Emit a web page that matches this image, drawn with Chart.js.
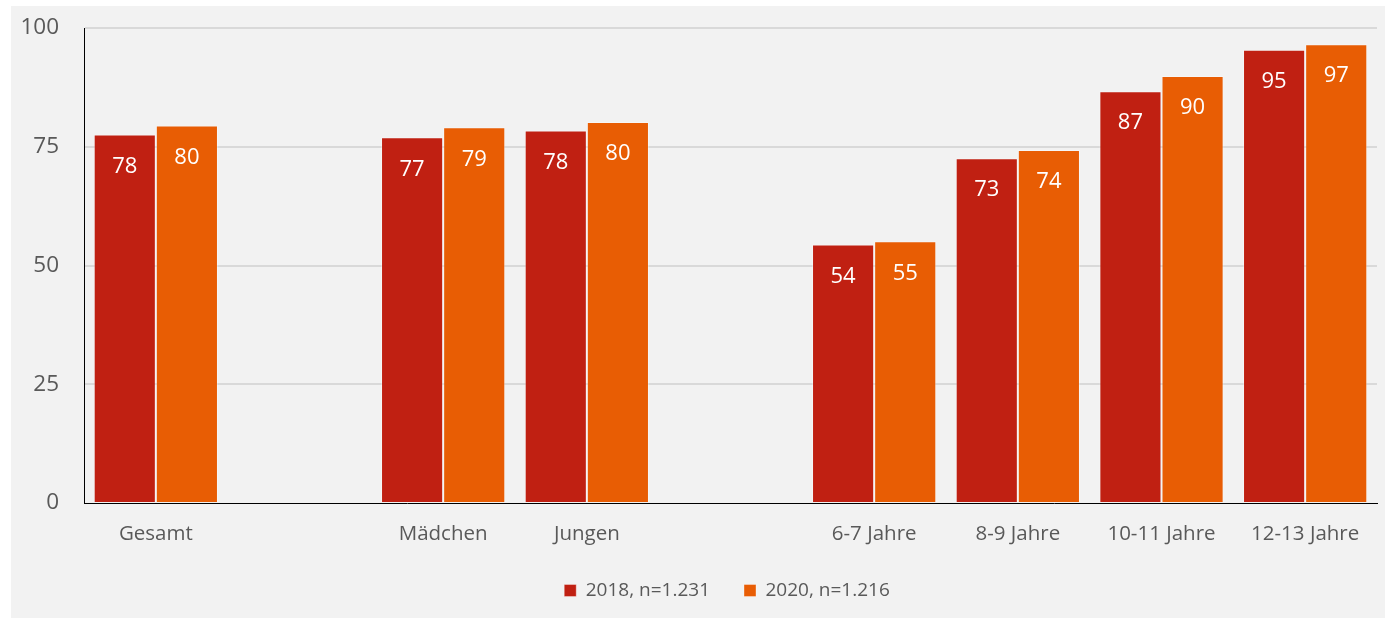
<!DOCTYPE html>
<html lang="de">
<head>
<meta charset="utf-8">
<title>2018 vs 2020</title>
<script src="https://cdn.jsdelivr.net/npm/chart.js@4.4.1/dist/chart.umd.min.js"></script>
<style>
  html, body { margin: 0; padding: 0; background: #ffffff; }
  #wrap { position: relative; width: 1391px; height: 625px; }
</style>
</head>
<body>
<div id="wrap"><canvas id="chart" width="1391" height="625"></canvas></div>
<script>
// categories (empty strings are the gaps between groups)
const categories = ['Gesamt', '', 'Mädchen', 'Jungen', '', '6-7 Jahre', '8-9 Jahre', '10-11 Jahre', '12-13 Jahre'];
const values2018 = [77.6, null, 77.0, 78.4, null, 54.4, 72.6, 86.7, 95.4];
const values2020 = [79.5, null, 79.1, 80.2, null, 55.1, 74.3, 89.9, 96.6];
const seriesNames = ['2018, n=1.231', '2020, n=1.216'];
const yTicks = [0, 25, 50, 75, 100];

const FONT = "'Open Sans', sans-serif";
const textGray = '#595959';

// grey panel behind the chart
const panelBg = {
    id: 'panelBg',
    beforeDraw(chart) {
        const c = chart.ctx;
        c.save();
        c.fillStyle = '#ffffff';
        c.fillRect(0, 0, chart.width, chart.height);
        c.fillStyle = '#f2f2f2';
        c.fillRect(11, 6, 1374, 612);
        c.restore();
    }
};

// legend is centred under the plot area, not the whole canvas
const legendShift = {
    id: 'legendShift',
    afterLayout(chart) {
        const lg = chart.legend;
        if (!lg) return;
        lg.left += 31;
        lg.right += 31;
    }
};

// white value labels inside the top of each bar
const barLabels = {
    id: 'barLabels',
    afterDatasetsDraw(chart) {
        const c = chart.ctx;
        c.save();
        c.fillStyle = '#ffffff';
        c.font = '22px ' + FONT;
        c.textAlign = 'center';
        c.textBaseline = 'middle';
        chart.data.datasets.forEach((ds, i) => {
            chart.getDatasetMeta(i).data.forEach((bar, j) => {
                const v = ds.data[j];
                if (v == null) return;
                c.fillText(String(Math.round(v)), bar.x, bar.y + 32);
            });
        });
        c.restore();
    }
};

const ctx = document.getElementById('chart');
new Chart(ctx, {
    type: 'bar',
    data: {
        labels: categories,
        datasets: [
            {
                label: seriesNames[0],
                data: values2018,
                backgroundColor: '#c02012',
                borderColor: 'rgba(255,255,255,0.35)',
                borderWidth: 1
            },
            {
                label: seriesNames[1],
                data: values2020,
                backgroundColor: '#e85d04',
                borderColor: 'rgba(255,255,255,0.35)',
                borderWidth: 1
            }
        ]
    },
    options: {
        responsive: false,
        animation: false,
        layout: { padding: { left: 15, top: 28, right: 14, bottom: 15 } },
        datasets: {
            bar: { categoryPercentage: 0.865, barPercentage: 1.0 }
        },
        scales: {
            x: {
                grid: { display: false, drawTicks: false },
                border: { display: true, color: '#000000', width: 1 },
                ticks: { color: textGray, font: { family: FONT, size: 20.5 }, padding: 19, maxRotation: 0, autoSkip: false },
                afterFit(scale) { scale.height = 44; }
            },
            y: {
                min: 0,
                max: 100,
                afterBuildTicks(scale) { scale.ticks = yTicks.map(v => ({ value: v })); },
                grid: {
                    drawTicks: true,
                    tickLength: 22,
                    tickColor: 'rgba(0,0,0,0)',
                    lineWidth: 2,
                    color: c => c.tick && c.tick.value === 0 ? 'rgba(0,0,0,0)' : '#d9d9d9'
                },
                border: { display: true, color: '#000000', width: 1 },
                ticks: { color: textGray, font: { family: FONT, size: 22.5 }, padding: 3 },
                afterFit(scale) { scale.width = 69; }
            }
        },
        plugins: {
            legend: {
                position: 'bottom',
                labels: {
                    color: textGray,
                    font: { family: FONT, size: 19 },
                    boxWidth: 12,
                    boxHeight: 12,
                    padding: 34
                }
            },
            tooltip: { enabled: false }
        }
    },
    plugins: [panelBg, legendShift, barLabels]
});
</script>
</body>
</html>
